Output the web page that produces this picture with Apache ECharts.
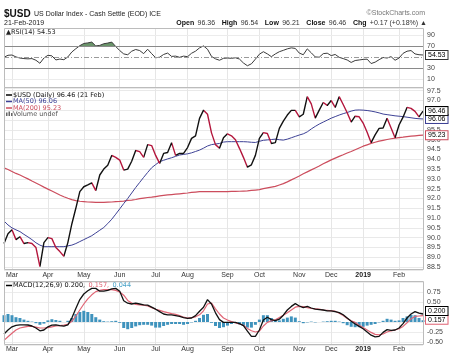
<!DOCTYPE html>
<html><head><meta charset="utf-8">
<script src="https://cdn.jsdelivr.net/npm/echarts@6/dist/echarts.min.js"></script>
<style>html,body{margin:0;padding:0;background:#fff}#c{width:450px;height:357px}</style>
</head><body><div id="c"></div>
<script>
// ---- data (one point every ~2 trading days, 22-Feb-2018 .. 21-Feb-2019) ----
const monthLabels = ['Mar','Apr','May','Jun','Jul','Aug','Sep','Oct','Nov','Dec','2019','Feb'];
const monthIdx = [2, 11, 20, 29, 38, 46, 56, 64, 74, 82, 90, 99];

const price = [
 89.7, 90.2, 90.4, 89.9, 90.05, 89.7, 89.75, 89.7, 89.5, 88.52,
 89.75, 90.0, 89.95, 89.5, 89.29, 89.05, 89.75, 90.7, 91.5, 92.35,
 92.6, 92.69, 92.8, 92.4, 93.2, 93.5, 93.7, 94.2, 94.1, 93.96,
 93.45, 93.5, 93.9, 94.45, 94.39, 94.1, 94.75, 94.7, 94.2, 93.79,
 94.3, 94.35, 94.85, 94.2, 94.3, 94.3, 94.6, 95.07, 95.2, 96.09,
 96.51, 96.3, 95.35, 94.75, 94.56, 95.1, 95.3, 95.2, 95.0, 94.56,
 94.1, 93.6, 93.72, 94.2, 95.07, 95.36, 95.32, 94.81, 94.85, 95.58,
 95.95, 96.26, 96.5, 96.5, 96.17, 96.3, 97.2, 96.83, 96.1, 96.51,
 96.9, 96.75, 97.0, 96.65, 97.2, 96.8, 96.38, 95.9, 96.2, 96.17,
 95.85, 95.38, 94.85, 95.25, 95.58, 95.6, 96.1, 95.6, 95.1, 95.75,
 96.15, 96.65, 96.6, 96.45, 96.17, 96.46
];
const ma50 = [
 90.85, 90.65, 90.5, 90.4, 90.31, 90.17, 90.04, 89.9, 89.74, 89.62,
 89.54, 89.54, 89.54, 89.54, 89.54, 89.54, 89.58, 89.62, 89.7, 89.8,
 89.9, 90.0, 90.1, 90.24, 90.38, 90.52, 90.72, 90.94, 91.2, 91.47,
 91.74, 92.0, 92.28, 92.56, 92.82, 93.08, 93.33, 93.57, 93.73, 93.88,
 93.95, 94.02, 94.08, 94.15, 94.22, 94.25, 94.28, 94.33, 94.4, 94.47,
 94.57, 94.68, 94.75, 94.78, 94.81, 94.88, 94.9, 94.9, 94.9, 94.9,
 94.9, 94.89, 94.87, 94.86, 94.92, 94.97, 94.99, 95.01, 95.03, 95.0,
 94.98, 95.03, 95.1, 95.17, 95.24, 95.3, 95.4, 95.55, 95.68, 95.8,
 95.9, 96.0, 96.1, 96.18, 96.26, 96.33, 96.39, 96.46, 96.51, 96.52,
 96.51, 96.49, 96.46, 96.42, 96.37, 96.31, 96.28, 96.25, 96.22, 96.2,
 96.18, 96.15, 96.12, 96.09, 96.07, 96.06
];
const ma200 = [
 93.56, 93.48, 93.38, 93.28, 93.2, 93.1, 93.0, 92.89, 92.79, 92.69,
 92.58, 92.48, 92.38, 92.28, 92.18, 92.09, 92.01, 91.94, 91.89, 91.86,
 91.84, 91.82, 91.81, 91.8, 91.8, 91.8, 91.81, 91.82, 91.84, 91.85,
 91.87, 91.9, 91.92, 91.95, 91.99, 92.02, 92.05, 92.07, 92.1, 92.13,
 92.16, 92.18, 92.2, 92.22, 92.24, 92.26, 92.28, 92.31, 92.33, 92.35,
 92.35, 92.35, 92.35, 92.35, 92.35, 92.35, 92.35, 92.36, 92.36, 92.37,
 92.38, 92.39, 92.41, 92.43, 92.45, 92.5, 92.54, 92.58, 92.62, 92.69,
 92.76, 92.85, 92.95, 93.05, 93.15, 93.26, 93.36, 93.46, 93.56, 93.66,
 93.77, 93.87, 93.97, 94.06, 94.15, 94.23, 94.32, 94.4, 94.49, 94.58,
 94.67, 94.74, 94.81, 94.87, 94.93, 94.97, 95.01, 95.05, 95.08, 95.11,
 95.13, 95.16, 95.18, 95.2, 95.22, 95.23
];
const rsi = [
 50.5, 54, 54.5, 51, 49, 48, 47.5, 48, 45, 39.5,
 49, 54, 53, 45.5, 47.2, 46, 51, 60, 66, 71.5,
 75.5, 76.5, 78, 71, 72, 75, 76.2, 78, 70, 62.6,
 56.5, 55, 61.4, 64.5, 62.6, 57, 65, 57, 49.5, 50.5,
 55.5, 58, 52, 52.5, 50.3, 52.5, 51.5, 57.7, 61.5, 67.5,
 71, 65, 52, 47.5, 45, 48.5, 49, 48.5, 49.5, 47.2,
 40, 35, 38.5, 47, 56, 60.5, 56.5, 51.5, 56.5, 60.5,
 63, 65.7, 67.5, 66.5, 58, 55, 65.7, 58.5, 51, 50.5,
 57, 57.8, 53.4, 55.5, 50.3, 48, 45.5, 41, 44.5, 45.5,
 46.5, 47, 39, 41.5, 46, 50, 49, 51.5, 45, 49,
 57.5, 61.4, 62.6, 56.5, 55, 54.53
];
const macd = [
 -0.3, -0.2, -0.12, -0.085, -0.07, -0.07, -0.075, -0.1, -0.15, -0.22,
 -0.2, -0.12, -0.08, -0.07, -0.09, -0.105, -0.07, 0.1, 0.34, 0.56,
 0.7, 0.78, 0.84, 0.84, 0.77, 0.77, 0.79, 0.83, 0.84, 0.77,
 0.53, 0.47, 0.45, 0.47, 0.45, 0.43, 0.42, 0.37, 0.32, 0.26,
 0.2, 0.18, 0.18, 0.16, 0.14, 0.11, 0.09, 0.1, 0.16, 0.27,
 0.37, 0.56, 0.45, 0.23, 0.06, -0.01, -0.01, -0.01, -0.01, -0.04,
 -0.09, -0.23, -0.36, -0.36, -0.2, 0.05, 0.12, 0.06, 0.035, 0.07,
 0.17, 0.3, 0.39, 0.46, 0.4, 0.36, 0.39, 0.35, 0.32, 0.31,
 0.3, 0.28, 0.28, 0.26, 0.235, 0.18, 0.1, 0.017, -0.05, -0.11,
 -0.17, -0.25, -0.33, -0.37, -0.36, -0.26, -0.19, -0.21, -0.2, -0.15,
 -0.04, 0.1, 0.2, 0.26, 0.22, 0.2
];
const signal = [
 -0.46, -0.37, -0.28, -0.2, -0.15, -0.13, -0.11, -0.11, -0.13, -0.15,
 -0.15, -0.14, -0.12, -0.1, -0.09, -0.08, -0.06, 0.017, 0.15, 0.3,
 0.45, 0.58, 0.68, 0.76, 0.79, 0.81, 0.81, 0.81, 0.79, 0.75,
 0.67, 0.54, 0.475, 0.44, 0.43, 0.42, 0.4, 0.36, 0.32, 0.29,
 0.26, 0.235, 0.21, 0.19, 0.16, 0.12, 0.1, 0.11, 0.13, 0.18,
 0.28, 0.45, 0.47, 0.33, 0.2, 0.1, 0.05, 0.01, -0.02, -0.045,
 -0.08, -0.16, -0.22, -0.25, -0.23, -0.1, -0.01, 0.03, 0.055, 0.11,
 0.17, 0.23, 0.3, 0.37, 0.39, 0.385, 0.36, 0.34, 0.33, 0.32,
 0.3, 0.29, 0.28, 0.27, 0.22, 0.16, 0.09, 0.03, -0.01, -0.08,
 -0.14, -0.2, -0.26, -0.31, -0.32, -0.3, -0.25, -0.22, -0.2, -0.17,
 -0.11, -0.02, 0.08, 0.14, 0.15, 0.157
];
const hist = [
 0.17, 0.2, 0.17, 0.12, 0.1, 0.06, 0.03, 0.01, -0.03, -0.07,
 -0.04, 0.04, 0.07, 0.05, 0.03, 0.0, 0.03, 0.1, 0.2, 0.25,
 0.28, 0.25, 0.2, 0.12, 0.06, 0.02, 0.01, 0.02, 0.03, -0.02,
 -0.15, -0.18, -0.15, -0.11, -0.08, -0.07, -0.07, -0.09, -0.14, -0.14,
 -0.1, -0.07, -0.05, -0.05, -0.05, -0.07, -0.05, -0.01, 0.03, 0.1,
 0.18, 0.2, -0.02, -0.1, -0.15, -0.13, -0.09, -0.05, -0.03, -0.06,
 -0.1, -0.14, -0.14, -0.07, 0.06, 0.17, 0.17, 0.1, 0.04, 0.04,
 0.08, 0.11, 0.14, 0.11, 0.02, -0.03, -0.01, 0.01, -0.01, 0.0,
 0.01, 0.02, 0.03, 0.03, 0.01, -0.03, -0.08, -0.12, -0.13, -0.13,
 -0.12, -0.09, -0.07, -0.05, -0.01, 0.03, 0.08, 0.06, 0.03, 0.04,
 0.1, 0.14, 0.18, 0.17, 0.1, 0.044
];
const rsiLabels = [10, 30, 70, 90];
const macdLabels = [0.75, 0.5, -0.25, -0.5];

// ---- styling ----
const FONT = "'Liberation Sans', Arial, sans-serif";
const VFONT = "'DejaVu Sans', Verdana, sans-serif";
const RED = '#b3163c', BLUE = '#3d4195', PINK = '#cc4d5d', SIG = '#e06474', HIST = '#3f93bd';
const GRID = '#e6e6e6', BORDER = '#bcbcbc';
const L = 4, R = 27;

const N = price.length;
const cats = [];
for (let i = 0; i < N; i++) { const k = monthIdx.indexOf(i); cats.push(k >= 0 ? monthLabels[k] : ''); }

// colour the falling stretches of the close line red
const pieces = [];
let s = null;
for (let i = 0; i < N - 1; i++) {
  if (price[i + 1] < price[i]) { if (s === null) s = i; }
  else if (s !== null) { pieces.push({ gte: s, lte: i, color: RED }); s = null; }
}
if (s !== null) pieces.push({ gte: s, lte: N - 1, color: RED });

function xAxis(gi, showLabel, margin) {
  return {
    type: 'category', gridIndex: gi, data: cats, boundaryGap: false,
    axisLine: { show: false }, axisTick: { show: false },
    splitLine: { show: true, interval: (idx) => cats[idx] !== '', lineStyle: { color: GRID, width: 1 } },
    axisLabel: {
      show: showLabel, interval: (idx) => cats[idx] !== '', margin: margin,
      fontFamily: FONT, fontSize: 7, color: '#333',
      formatter: v => v === '2019' ? '{b|2019}' : v,
      rich: { b: { fontWeight: 'bold', fontSize: 7, fontFamily: FONT, color: '#222' } }
    }
  };
}
function tag(color, dec, offset) {
  return {
    show: true, formatter: p => Number(p.value).toFixed(dec), color: '#000',
    fontFamily: FONT, fontSize: 7, backgroundColor: '#fff', borderColor: color, borderWidth: 1,
    padding: [1, 2, 0, 2], distance: 3, offset: offset || [0, 0]
  };
}
const yLab = { fontFamily: FONT, fontSize: 7, color: '#444', margin: 4, showMinLabel: false, showMaxLabel: false };

const option = {
  animation: false,
  grid: [
    { left: L, right: R, top: 28, height: 60 },
    { left: L, right: R, top: 88, height: 182 },
    { left: L, right: R, top: 281, height: 64 }
  ],
  xAxis: [xAxis(0, false, 0), xAxis(1, true, 2), xAxis(2, true, 1)],
  yAxis: [
    { type: 'value', gridIndex: 0, position: 'right', min: -5.45, max: 103.6, minInterval: 10, maxInterval: 10,
      axisLine: { show: false }, axisTick: { show: false }, splitLine: { show: false },
      axisLabel: Object.assign({}, yLab, { formatter: v => rsiLabels.includes(Math.round(v * 100) / 100) ? String(v) : '' }) },
    { type: 'value', gridIndex: 1, position: 'right', min: 88.35, max: 97.64, minInterval: 0.5, maxInterval: 0.5,
      axisLine: { show: false }, axisTick: { show: false }, splitLine: { show: true, lineStyle: { color: '#e9e9e9' } },
      axisLabel: Object.assign({}, yLab, { formatter: v => Math.abs(v * 2 - Math.round(v * 2)) < 1e-6 ? v.toFixed(1) : '' }) },
    { type: 'value', gridIndex: 2, position: 'right', min: -0.575, max: 1.025, minInterval: 0.25, maxInterval: 0.25,
      axisLine: { show: false }, axisTick: { show: false }, splitLine: { show: true, lineStyle: { color: '#ececec' } },
      axisLabel: Object.assign({}, yLab, { formatter: v => macdLabels.some(m => Math.abs(m - v) < 1e-6) ? v.toFixed(2) : '' }) }
  ],
  visualMap: [{ type: 'piecewise', show: false, dimension: 0, seriesIndex: 4, pieces: pieces, outOfRange: { color: '#111' } }],
  series: [
    { name: 'rsiFill', type: 'line', xAxisIndex: 0, yAxisIndex: 0, data: rsi.map(v => Math.max(v, 70)),
      symbol: 'none', silent: true, lineStyle: { width: 0, opacity: 0 },
      areaStyle: { origin: 70, color: '#6a946a', opacity: 1 }, z: 1 },
    { name: 'RSI', type: 'line', xAxisIndex: 0, yAxisIndex: 0, data: rsi, symbol: 'none',
      lineStyle: { color: '#3a3a3a', width: 1 }, endLabel: tag('#333', 2), z: 3,
      markLine: { symbol: 'none', silent: true, label: { show: false },
        data: [
          { yAxis: 90, lineStyle: { color: '#ececec', width: 1, type: 'solid' } },
          { yAxis: 10, lineStyle: { color: '#ececec', width: 1, type: 'solid' } },
          { yAxis: 70, lineStyle: { color: '#8a8a8a', width: 1, type: 'solid' } },
          { yAxis: 30, lineStyle: { color: '#8a8a8a', width: 1, type: 'solid' } },
          { yAxis: 50, lineStyle: { color: '#9a9a9a', width: 1, type: [5, 2, 1, 2] } }
        ] } },
    { name: 'MA200', type: 'line', xAxisIndex: 1, yAxisIndex: 1, data: ma200, symbol: 'none',
      lineStyle: { color: PINK, width: 1.2 }, endLabel: tag(PINK, 2), z: 2 },
    { name: 'MA50', type: 'line', xAxisIndex: 1, yAxisIndex: 1, data: ma50, symbol: 'none',
      lineStyle: { color: BLUE, width: 1 }, endLabel: tag(BLUE, 2), z: 3 },
    { name: 'USD', type: 'line', xAxisIndex: 1, yAxisIndex: 1, data: price, symbol: 'none',
      lineStyle: { width: 1.4 }, endLabel: tag('#000', 2), z: 4 },
    { name: 'Hist', type: 'bar', xAxisIndex: 2, yAxisIndex: 2, data: hist, barCategoryGap: '25%',
      itemStyle: { color: HIST }, z: 1 },
    { name: 'Signal', type: 'line', xAxisIndex: 2, yAxisIndex: 2, data: signal, symbol: 'none',
      lineStyle: { color: SIG, width: 1.2 }, endLabel: tag(SIG, 3, [0, 4]), z: 3 },
    { name: 'MACD', type: 'line', xAxisIndex: 2, yAxisIndex: 2, data: macd, symbol: 'none',
      lineStyle: { color: '#111', width: 1.3 }, endLabel: tag('#000', 3, [0, -3]), z: 4 }
  ],
  graphic: [
    { type: 'rect', z: 50, silent: true, shape: { x: 4.5, y: 28.5, width: 419, height: 59 }, style: { fill: 'none', stroke: BORDER, lineWidth: 1 } },
    { type: 'rect', z: 50, silent: true, shape: { x: 4.5, y: 87.5, width: 419, height: 182 }, style: { fill: 'none', stroke: BORDER, lineWidth: 1 } },
    { type: 'rect', z: 50, silent: true, shape: { x: 4.5, y: 281.5, width: 419, height: 63 }, style: { fill: 'none', stroke: BORDER, lineWidth: 1 } },
    { type: 'text', z: 60, x: 4, y: 14, style: {
        text: '{a|$USD} {b|US Dollar Index - Cash Settle (EOD) ICE}', verticalAlign: 'middle', textVerticalAlign: 'middle',
        rich: { a: { fontFamily: FONT, fontSize: 10, fontWeight: 'bold', fill: '#111', color: '#111' },
                b: { fontFamily: FONT, fontSize: 7, fill: '#222', color: '#222' } } } },
    { type: 'text', z: 60, x: 4, y: 23, style: { text: '21-Feb-2019', font: '7px ' + FONT, fill: '#222', verticalAlign: 'middle', textVerticalAlign: 'middle' } },
    { type: 'text', z: 60, x: 425, y: 13, style: { text: '\u00a9StockCharts.com', font: '7px ' + FONT, fill: '#777', align: 'right', textAlign: 'right', verticalAlign: 'middle', textVerticalAlign: 'middle' } },
    { type: 'text', z: 60, x: 427, y: 23, style: {
        text: '{k|Open} {v|96.36}  {k|High} {v|96.54}  {k|Low} {v|96.21}  {k|Close} {v|96.46}  {k|Chg} {v|+0.17 (+0.18%) \u25b2}',
        align: 'right', textAlign: 'right', verticalAlign: 'middle', textVerticalAlign: 'middle',
        rich: { k: { fontFamily: FONT, fontSize: 7, fontWeight: 'bold', fill: '#111', color: '#111' },
                v: { fontFamily: FONT, fontSize: 7, fill: '#333', color: '#333' } } } },
    { type: 'text', z: 60, x: 6, y: 32, style: { text: '\u25b2RSI(14) 54.53', font: '6.5px ' + VFONT, fill: '#222', verticalAlign: 'middle', textVerticalAlign: 'middle' } },
    // price legend
    { type: 'line', z: 60, shape: { x1: 6, y1: 95, x2: 12, y2: 95 }, style: { stroke: '#000', lineWidth: 1.5 } },
    { type: 'text', z: 60, x: 13, y: 95, style: { text: '$USD (Daily) 96.46 (21 Feb)', font: '6.5px ' + VFONT, fill: '#111', verticalAlign: 'middle', textVerticalAlign: 'middle' } },
    { type: 'line', z: 60, shape: { x1: 6, y1: 101.5, x2: 12, y2: 101.5 }, style: { stroke: BLUE, lineWidth: 1.5 } },
    { type: 'text', z: 60, x: 13, y: 101.5, style: { text: 'MA(50) 96.06', font: '6.5px ' + VFONT, fill: BLUE, verticalAlign: 'middle', textVerticalAlign: 'middle' } },
    { type: 'line', z: 60, shape: { x1: 6, y1: 108, x2: 12, y2: 108 }, style: { stroke: PINK, lineWidth: 1.5 } },
    { type: 'text', z: 60, x: 13, y: 108, style: { text: 'MA(200) 95.23', font: '6.5px ' + VFONT, fill: PINK, verticalAlign: 'middle', textVerticalAlign: 'middle' } },
    { type: 'rect', z: 60, shape: { x: 6, y: 112.5, width: 1.5, height: 3.5 }, style: { fill: '#666' } },
    { type: 'rect', z: 60, shape: { x: 8.5, y: 111.5, width: 1.5, height: 4.5 }, style: { fill: '#666' } },
    { type: 'rect', z: 60, shape: { x: 11, y: 113, width: 1.5, height: 3 }, style: { fill: '#666' } },
    { type: 'text', z: 60, x: 13, y: 114.5, style: { text: 'Volume undef', font: '6.5px ' + VFONT, fill: '#555', verticalAlign: 'middle', textVerticalAlign: 'middle' } },
    // MACD legend
    { type: 'line', z: 60, shape: { x1: 6, y1: 285.5, x2: 12, y2: 285.5 }, style: { stroke: '#000', lineWidth: 1.5 } },
    { type: 'text', z: 60, x: 13, y: 285.5, style: {
        text: '{k|MACD(12,26,9) 0.200,} {r|0.157,} {b|0.044}', verticalAlign: 'middle', textVerticalAlign: 'middle',
        rich: { k: { fontFamily: VFONT, fontSize: 6.5, fill: '#111', color: '#111' },
                r: { fontFamily: VFONT, fontSize: 6.5, fill: SIG, color: SIG },
                b: { fontFamily: VFONT, fontSize: 6.5, fill: '#4aa3c8', color: '#4aa3c8' } } } }
  ]
};
const chart = echarts.init(document.getElementById('c'));
chart.setOption(option);
</script>
</body></html>
